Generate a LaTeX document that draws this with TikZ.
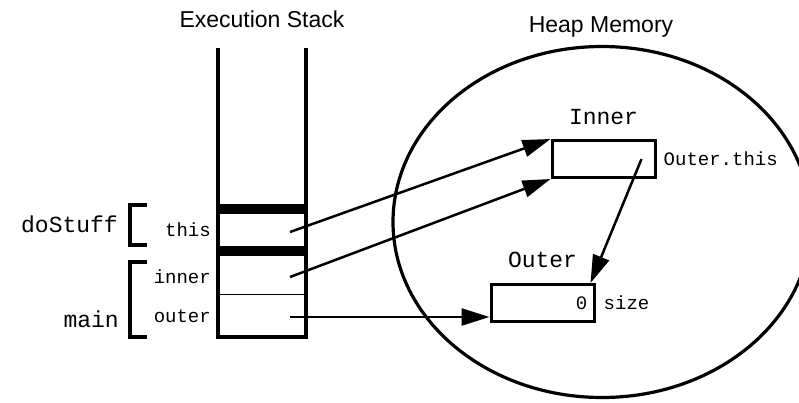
\documentclass[tikz,border=0pt]{standalone}
\usepackage{fontspec}
\newfontfamily\memsans{Liberation Sans}
\newfontfamily\memmono{Liberation Mono}
\usetikzlibrary{arrows.meta,calc,positioning}
\definecolor{mmink}{HTML}{000000}
\tikzset{
  mm title/.style={font=\memsans\fontsize{23}{25}\selectfont, text=mmink},
  mm big/.style={font=\memmono\fontsize{23}{25}\selectfont, text=mmink, inner sep=0pt},
  mm small/.style={font=\memmono\fontsize{19}{21}\selectfont, text=mmink, inner sep=0pt},
  mm box/.style={draw=mmink, line width=3pt, minimum width=103pt, minimum height=37pt,
    inner sep=0pt},
  mm arrow/.style={-{Triangle[length=28pt,width=17pt]}, line width=2.5pt, draw=mmink},
  mm wall/.style={draw=mmink, line width=3.5pt},
  mm bracket/.style={draw=mmink, line width=4pt},
  mm heap/.style={draw=mmink, line width=3.2pt}
}
\begin{document}
\begin{tikzpicture}[x=1pt, y=-1pt]
  \useasboundingbox (0,0) rectangle (799,402);
  % heap
  \draw[mm heap] (602,222) ellipse [x radius=209, y radius=175.5];
  \node[mm title, anchor=base] (heap title) at (601,32) {Heap Memory};
  % stack
  \node[mm title, anchor=base] (stack title) at (262,27) {Execution Stack};
  \draw[mm wall] (218,48) -- (218,337) -- (306,337) -- (306,48);
  \fill[mmink] (218,204) rectangle (306,214);
  \fill[mmink] (218,246) rectangle (306,256);
  \draw[draw=mmink, line width=1pt] (218,294) -- (306,294);
  \node[mm small, anchor=base east] (this label) at (211,236) {this};
  \node[mm small, anchor=base east] (inner label) at (211,283) {inner};
  \node[mm small, anchor=base east] (outer label) at (211,322) {outer};
  \coordinate (this ref) at (290,232);
  \coordinate (inner ref) at (290,277);
  \coordinate (outer ref) at (290,317);
  % frames
  \draw[mm bracket] (147,205) -- (130,205) -- (130,245) -- (147,245);
  \draw[mm bracket] (147,262) -- (130,262) -- (130,337) -- (147,337);
  \node[mm big, anchor=base east] (dostuff label) at (118,232) {doStuff};
  \node[mm big, anchor=base east] (main label) at (119,327) {main};
  % objects
  \node[mm box] (inner) at (603.5,159) {};
  \node[mm big, above=14pt of inner] (inner name) {Inner};
  \node[mm small, right=7pt of inner] (inner field) {Outer.this};
  \node[mm box] (outer) at (542.5,303) {};
  \node[mm big, above=15pt of outer] (outer name) {Outer};
  \node[mm small, right=8pt of outer] (outer field) {size};
  \node[mm small, anchor=east] (size value) at ($(outer.east)+(-8,0)$) {0};
  \coordinate (outer this ref) at ($(inner.east)+(-15,0)$);
  % references
  \draw[mm arrow] (this ref) -- (inner.north west);
  \draw[mm arrow] (inner ref) -- (inner.south west);
  \draw[mm arrow] (outer ref) -- (outer ref -| outer.west);
  \draw[mm arrow] (outer this ref) -- ($(outer.north east)+(-5,0)$);
\end{tikzpicture}
\end{document}
